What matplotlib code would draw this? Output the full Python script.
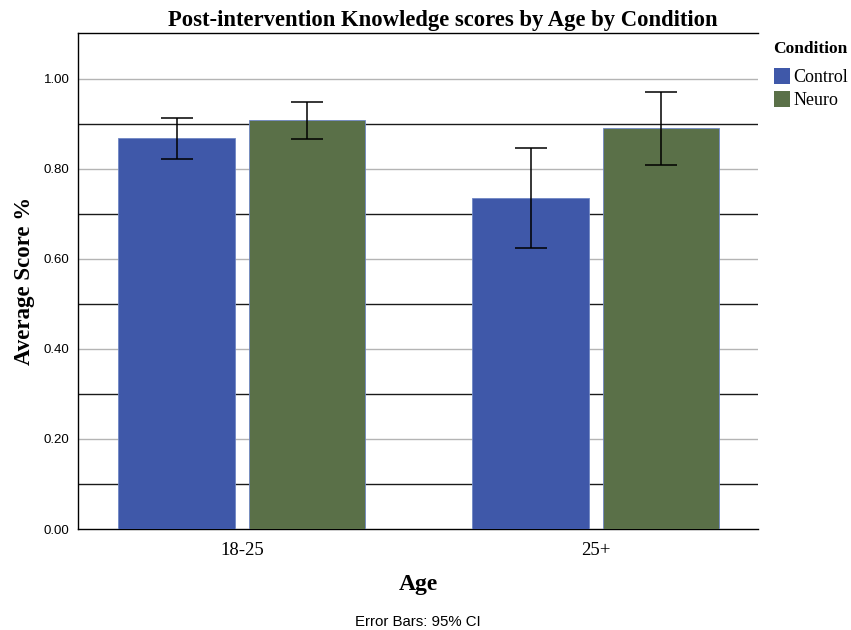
import numpy as np
import matplotlib
matplotlib.use('Agg')
import matplotlib.pyplot as plt
from matplotlib.patches import Patch

# 数据
ages = ['18-25', '25+']
conditions = ['Control', 'Neuro']
control_mean = [0.869, 0.736]
control_lo = [0.822, 0.624]
control_hi = [0.913, 0.847]
neuro_mean = [0.909, 0.891]
neuro_lo = [0.867, 0.809]
neuro_hi = [0.949, 0.971]

colors = ['#3f58a9', '#5a7048']
serif = 'Liberation Serif'
sans = 'Liberation Sans'

fig = plt.figure(figsize=(8.51, 6.3), dpi=100)
ax = fig.add_axes([0.0917, 0.1603, 0.799, 0.7873])

x = np.arange(len(ages))
width = 0.33
offset = 0.184

for i, (mean, lo, hi) in enumerate([(control_mean, control_lo, control_hi),
                                    (neuro_mean, neuro_lo, neuro_hi)]):
    pos = x + (-offset if i == 0 else offset)
    mean = np.array(mean)
    yerr = np.vstack([mean - np.array(lo), np.array(hi) - mean])
    ax.bar(pos, mean, width, color=colors[i], edgecolor='#6f86c4', linewidth=0.6, zorder=3)
    ax.errorbar(pos, mean, yerr=yerr, fmt='none', ecolor='black', elinewidth=1.1,
                capsize=11.5, capthick=1.1, zorder=4)

# 网格线：偶数为灰色，奇数为黑色
for v in [0.2, 0.4, 0.6, 0.8, 1.0]:
    ax.axhline(v, color='#b4b4b4', linewidth=1.0, zorder=1)
for v in [0.1, 0.3, 0.5, 0.7, 0.9]:
    ax.axhline(v, color='#1a1a1a', linewidth=1.0, zorder=1)

ax.set_xlim(-0.463, 1.458)
ax.set_ylim(0, 1.102)
ax.set_yticks([0, 0.2, 0.4, 0.6, 0.8, 1.0])
ax.set_yticklabels(['0.00', '0.20', '0.40', '0.60', '0.80', '1.00'], fontfamily=sans, fontsize=9.5)
ax.set_xticks(x)
ax.set_xticklabels(ages, fontfamily=serif, fontsize=13.5)
ax.tick_params(axis='y', length=0, pad=6)
ax.tick_params(axis='x', length=0, pad=9)

ax.spines['right'].set_visible(False)
for s in ['left', 'top', 'bottom']:
    ax.spines[s].set_color('black')
    ax.spines[s].set_linewidth(1.0)

fig.text(0.52, 0.968, 'Post-intervention Knowledge scores by Age by Condition',
         fontfamily=serif, fontweight='bold', fontsize=16.3, ha='center', va='center')
ax.set_ylabel('Average Score %', fontfamily=serif, fontweight='bold', fontsize=16.5, labelpad=6)
ax.set_xlabel('Age', fontfamily=serif, fontweight='bold', fontsize=17, labelpad=11)

fig.text(0.491, 0.001, 'Error Bars: 95% CI', fontfamily=sans, fontsize=10.8, ha='center', va='bottom')

# 图例
handles = [Patch(facecolor=c, edgecolor='none') for c in colors]
leg = fig.legend(handles, conditions, loc='upper left', bbox_to_anchor=(0.909, 0.935),
                 frameon=False, title='Condition',
                 prop={'family': serif, 'size': 13},
                 handlelength=0.9, handleheight=1.0, handletextpad=0.2,
                 labelspacing=0.25, borderaxespad=0, borderpad=0)
leg.get_title().set_fontfamily(serif)
leg.get_title().set_fontweight('bold')
leg.get_title().set_fontsize(12.5)
leg._legend_box.align = 'left'
leg._legend_box.sep = 8

fig.savefig('out.png', dpi=100)
